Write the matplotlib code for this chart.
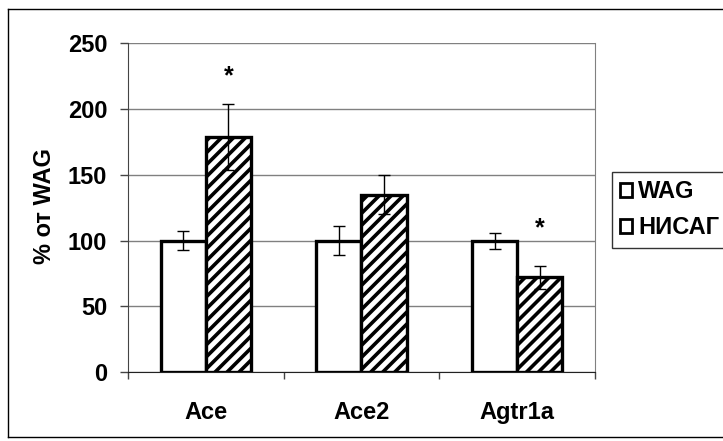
import matplotlib
matplotlib.use('Agg')
import matplotlib.pyplot as plt
import matplotlib.patches as mpatches
from matplotlib.collections import LineCollection
from matplotlib.lines import Line2D
from matplotlib.transforms import IdentityTransform
import numpy as np

plt.rcParams['font.family'] = ['Liberation Sans', 'DejaVu Sans']
plt.rcParams['font.weight'] = 'bold'
plt.rcParams['hatch.linewidth'] = 2.0

# данные
genes = ['Ace', 'Ace2', 'Agtr1a']
wag = [100, 100, 100]
wag_err = [7, 11, 6]
nisag = [179, 135, 72]
nisag_err = [25, 15, 9]
star_y = [225, None, 109]

fig = plt.figure(figsize=(7.23, 4.41), dpi=100)
ax = fig.add_axes([0.177, 0.156, 0.646, 0.746])

x = np.arange(len(genes))
w = 0.29
ax.bar(x - w / 2, wag, w, color='white', edgecolor='black', linewidth=2.4, zorder=3)
bars2 = ax.bar(x + w / 2, nisag, w, color='white', edgecolor='black', linewidth=2.4,
               zorder=3)
ax.errorbar(x - w / 2, wag, yerr=wag_err, fmt='none', ecolor='black', elinewidth=1,
            capsize=4.5, capthick=1, zorder=5)
ax.errorbar(x + w / 2, nisag, yerr=nisag_err, fmt='none', ecolor='black', elinewidth=1,
            capsize=4.5, capthick=1, zorder=5)

for xi, sy in zip(x, star_y):
    if sy is not None:
        ax.text(xi + w / 2, sy, '*', ha='center', va='center', fontsize=18, fontweight='bold')

ax.set_xlim(-0.5, 2.5)
ax.set_ylim(0, 250)
ax.set_yticks(range(0, 251, 50))
ax.yaxis.grid(True, color='#808080', linewidth=1)
ax.set_axisbelow(True)

ax.set_xticks(x)
ax.set_xticklabels(genes)
ax.set_xticks([-0.5, 0.5, 1.5, 2.5], minor=True)
ax.tick_params(axis='x', which='major', length=0, pad=21, labelsize=17)
ax.tick_params(axis='x', which='minor', length=5, width=1, direction='out', color='#444444')
ax.tick_params(axis='y', length=6, width=1, direction='out', pad=9, labelsize=17,
               color='#444444')

ax.spines['top'].set_visible(False)
ax.spines['right'].set_color('#808080')
ax.spines['left'].set_color('#444444')
ax.spines['bottom'].set_color('#222222')

ax.set_ylabel('% от WAG', fontsize=17, fontweight='bold')
ax.yaxis.set_label_coords(-0.155, 0.505)

# штриховка столбцов НИСАГ (шаг 12 px)
step = 12
for rect in bars2:
    bb = rect.get_window_extent()
    segs = []
    for c in np.arange(bb.y0 - bb.x1 - step, bb.y1 - bb.x0 + step, step):
        segs.append([(bb.x0 - 5, bb.x0 - 5 + c), (bb.x1 + 5, bb.x1 + 5 + c)])
    lc = LineCollection(segs, colors='black', linewidths=2.6, transform=IdentityTransform(),
                        zorder=3.5)
    ax.add_collection(lc)
    lc.set_clip_box(None)
    lc.set_clip_path(rect.get_path(), rect.get_transform())

handles = [mpatches.Patch(facecolor='white', edgecolor='black', linewidth=2),
           mpatches.Patch(facecolor='white', edgecolor='black', linewidth=2, hatch='/')]
leg = fig.legend(handles, ['WAG', 'НИСАГ'], loc='upper left',
                 bbox_to_anchor=(0.846, 0.61), fontsize=17, frameon=True,
                 fancybox=False, edgecolor='black', handlelength=0.52, handleheight=0.52,
                 handletextpad=0.25, borderpad=0.35, labelspacing=0.55, borderaxespad=0)
leg.get_frame().set_linewidth(1)

# рамка вокруг всей диаграммы (правый край обрезан)
x0, x1, y0, y1 = 0.011, 1.0, 0.009, 0.98
for xs, ys in [([x0, x0], [y0, y1]), ([x0, x1], [y1, y1]), ([x0, x1], [y0, y0])]:
    fig.add_artist(Line2D(xs, ys, transform=fig.transFigure, color='black', linewidth=1))

fig.savefig('out.png', dpi=100)
